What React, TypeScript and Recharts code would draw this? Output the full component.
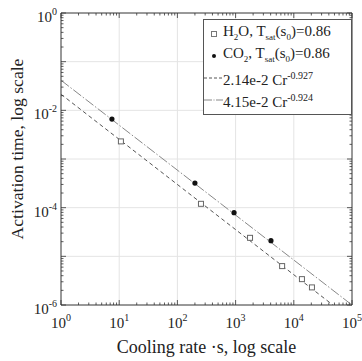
import { ComposedChart, Scatter, XAxis, YAxis, ReferenceLine } from 'recharts';

const decadesX = [1, 10, 100, 1000, 10000, 100000];
const decadesY = [1e-6, 1e-5, 1e-4, 1e-3, 1e-2, 1e-1, 1];
const xLabelDecades = [1, 10, 100, 1000, 10000, 100000];
const yLabelDecades = [1e-6, 1e-4, 1e-2, 1];

const h2oRate = [10.7, 254, 1770, 6300, 13800, 20500];
const h2oTime = [2.3e-3, 1.2e-4, 2.4e-5, 6.3e-6, 3.4e-6, 2.3e-6];
const co2Rate = [7.5, 200, 940, 4050];
const co2Time = [6.6e-3, 3.2e-4, 7.9e-5, 2.1e-5];

const fitH2oRate = [1, 46900];
const fitH2oTime = [2.14e-2, 1e-6];
const fitCo2Rate = [1, 100000];
const fitCo2Time = [4.15e-2, 1e-6];

const FONT = '"Liberation Serif", "Times New Roman", serif';
const AXIS = '#333333';

const pairs = (xs: number[], ys: number[]) => xs.map((x, i) => ({ rate: x, time: ys[i] }));

const h2oData = pairs(h2oRate, h2oTime);
const co2Data = pairs(co2Rate, co2Time);
const fitH2o = pairs(fitH2oRate, fitH2oTime);
const fitCo2 = pairs(fitCo2Rate, fitCo2Time);

// log ticks: decades plus 2..9 minor steps
const withMinor = (decs: number[]) => {
  const out: number[] = [];
  decs.forEach((d, i) => {
    out.push(d);
    if (i < decs.length - 1) for (let m = 2; m < 10; m++) out.push(d * m);
  });
  return out;
};
const xTicks = withMinor(decadesX);
const yTicks = withMinor(decadesY);

const isIn = (v: number, list: number[]) => list.some((d) => Math.abs(d - v) / d < 1e-9);
const exp = (v: number) => Math.round(Math.log10(v));

const XTick = ({ x, y, payload, top }: any) => {
  const v = payload.value;
  const major = isIn(v, decadesX);
  const len = major ? 5 : 2.5;
  return (
    <g>
      <line x1={x} x2={x} y1={y} y2={top ? y + len : y - len} stroke={AXIS} strokeWidth={0.8} />
      {!top && isIn(v, xLabelDecades) && (
        <text x={x} y={y + 23} textAnchor="middle" style={{ fontFamily: FONT }} fontSize={15} fill="#222">
          10<tspan dy={-7} fontSize={10}>{exp(v)}</tspan>
        </text>
      )}
    </g>
  );
};

const YTick = ({ x, y, payload, right }: any) => {
  const v = payload.value;
  const major = isIn(v, decadesY);
  const len = major ? 5 : 2.5;
  return (
    <g>
      <line x1={x} x2={right ? x - len : x + len} y1={y} y2={y} stroke={AXIS} strokeWidth={0.8} />
      {!right && isIn(v, yLabelDecades) && (
        <text x={x - 4} y={y + 9} textAnchor="end" style={{ fontFamily: FONT }} fontSize={15} fill="#222">
          10<tspan dy={-7} fontSize={10}>{exp(v)}</tspan>
        </text>
      )}
    </g>
  );
};

const YTitle = () => (
  <text x={17} y={149} transform="rotate(-90 17 149)" textAnchor="middle" dominantBaseline="central"
    style={{ fontFamily: FONT }} fontSize={17.6} fill="#222">
    Activation time, log scale
  </text>
);

const XTitle = ({ viewBox }: any) => (
  <text x={viewBox.x + viewBox.width / 2} y={353} textAnchor="middle" style={{ fontFamily: FONT }} fontSize={18} fill="#222">
    Cooling rate ·s, log scale
  </text>
);

const row: React.CSSProperties = { display: 'flex', alignItems: 'center', height: 22, whiteSpace: 'nowrap' };
const mark: React.CSSProperties = { width: 19, display: 'flex', justifyContent: 'center', alignItems: 'center' };
const sub: React.CSSProperties = { fontSize: 9, verticalAlign: -4 };
const sup: React.CSSProperties = { fontSize: 10, verticalAlign: 6 };

const LegendBox = () => (
  <div style={{ position: 'absolute', left: 203, top: 19, width: 147, border: '1px solid #555', background: '#fff',
    padding: '3px 0', fontFamily: FONT, fontSize: 15, color: '#222', lineHeight: '15px' }}>
    <div style={row}>
      <div style={mark}><div style={{ width: 4, height: 4, border: '1px solid #777' }} /></div>
      <span>H<span style={sub}>2</span>O, T<span style={sub}>sat</span>(s<span style={sub}>0</span>)=0.86</span>
    </div>
    <div style={row}>
      <div style={mark}><div style={{ width: 4, height: 4, borderRadius: 2, background: '#111' }} /></div>
      <span>CO<span style={sub}>2</span>, T<span style={sub}>sat</span>(s<span style={sub}>0</span>)=0.86</span>
    </div>
    <div style={row}>
      <svg width={19} height={4}><line x1={0} x2={19} y1={2} y2={2} stroke="#555" strokeDasharray="3 2" /></svg>
      <span>2.14e-2 Cr<span style={sup}>-0.927</span></span>
    </div>
    <div style={row}>
      <svg width={19} height={4}><line x1={0} x2={19} y1={2} y2={2} stroke="#888" strokeDasharray="8 1.5 1 1.5" /></svg>
      <span>4.15e-2 Cr<span style={sup}>-0.924</span></span>
    </div>
  </div>
);

const OpenSquare = (p: any) => (
  <rect x={p.cx - 2.5} y={p.cy - 2.5} width={5} height={5} fill="#fff" stroke="#666" strokeWidth={1} />
);
const FilledDot = (p: any) => <circle cx={p.cx} cy={p.cy} r={2.6} fill="#111" />;
const NoShape = () => <g />;

export default function App() {
  return (
    <div style={{ position: 'absolute', left: 0, top: 0, width: 362, height: 361, background: '#fff' }}>
      <ComposedChart width={362} height={361} margin={{ top: 0, right: 0, bottom: 0, left: 0 }}>
        <XAxis xAxisId="b" dataKey="rate" type="number" scale="log" domain={[1, 100000]} allowDataOverflow
          ticks={xTicks} interval={0} tick={<XTick />} tickSize={0} tickMargin={0} tickLine={false}
          axisLine={{ stroke: AXIS }} height={56} label={<XTitle />} />
        <XAxis xAxisId="t" orientation="top" dataKey="rate" type="number" scale="log" domain={[1, 100000]} allowDataOverflow
          ticks={xTicks} interval={0} tick={<XTick top />} tickSize={0} tickMargin={0} tickLine={false}
          axisLine={{ stroke: AXIS }} height={13} />
        <YAxis yAxisId="l" dataKey="time" type="number" scale="log" domain={[1e-6, 1]} allowDataOverflow
          ticks={yTicks} interval={0} tick={<YTick />} tickSize={0} tickMargin={0} tickLine={false}
          axisLine={{ stroke: AXIS }} width={61} label={<YTitle />} />
        <YAxis yAxisId="r" orientation="right" dataKey="time" type="number" scale="log" domain={[1e-6, 1]} allowDataOverflow
          ticks={yTicks} interval={0} tick={<YTick right />} tickSize={0} tickMargin={0} tickLine={false}
          axisLine={{ stroke: AXIS }} width={10} />
        {decadesX.slice(1, -1).map((v) => (
          <ReferenceLine key={`gx${v}`} xAxisId="b" yAxisId="l" x={v} stroke="#e4e4e4" />
        ))}
        {decadesY.slice(1, -1).map((v) => (
          <ReferenceLine key={`gy${v}`} xAxisId="b" yAxisId="l" y={v} stroke="#e4e4e4" />
        ))}
        <Scatter xAxisId="b" yAxisId="l" data={fitH2o} shape={<NoShape />}
          line={{ stroke: '#555', strokeDasharray: '4 3', strokeWidth: 1 }} isAnimationActive={false} />
        <Scatter xAxisId="b" yAxisId="l" data={fitCo2} shape={<NoShape />}
          line={{ stroke: '#888', strokeDasharray: '10 2 1.5 2', strokeWidth: 1 }} isAnimationActive={false} />
        <Scatter xAxisId="b" yAxisId="l" data={h2oData} shape={<OpenSquare />} isAnimationActive={false} />
        <Scatter xAxisId="b" yAxisId="l" data={co2Data} shape={<FilledDot />} isAnimationActive={false} />
      </ComposedChart>
      <LegendBox />
    </div>
  );
}
